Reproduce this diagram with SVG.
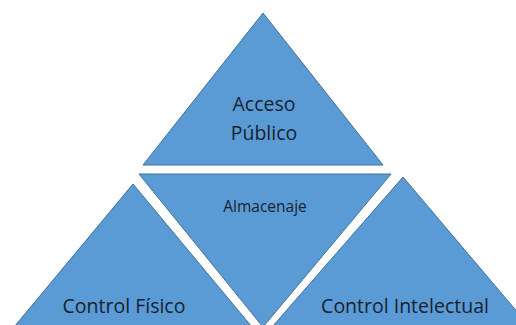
<svg xmlns="http://www.w3.org/2000/svg" width="516" height="325" viewBox="0 0 516 325">
<style>
.tri{fill:#5b9bd5;stroke:#41719c;stroke-width:1}
.t{font-family:"Open Sans","Liberation Sans",sans-serif;fill:#17222f;text-anchor:middle}
</style>
<rect width="516" height="325" fill="#ffffff"/>
<g id="acceso">
<polygon class="tri" points="263,13 383,165 143,165"/>
<text class="t" x="264" y="111" font-size="19.5">Acceso</text>
<text class="t" x="264" y="140" font-size="19.5">Público</text>
</g>
<g id="almacenaje">
<polygon class="tri" points="139,174 391,174 263,327"/>
<text class="t" x="265" y="212" font-size="15.5">Almacenaje</text>
</g>
<g id="fisico">
<polygon class="tri" points="133,184 252,327 14,327"/>
<text class="t" x="124" y="313" font-size="19.5">Control Físico</text>
</g>
<g id="intelectual">
<polygon class="tri" points="403,177 530,327 272,327"/>
<text class="t" x="405" y="313" font-size="19.5">Control Intelectual</text>
</g>
<g id="connectors"></g>
</svg>
